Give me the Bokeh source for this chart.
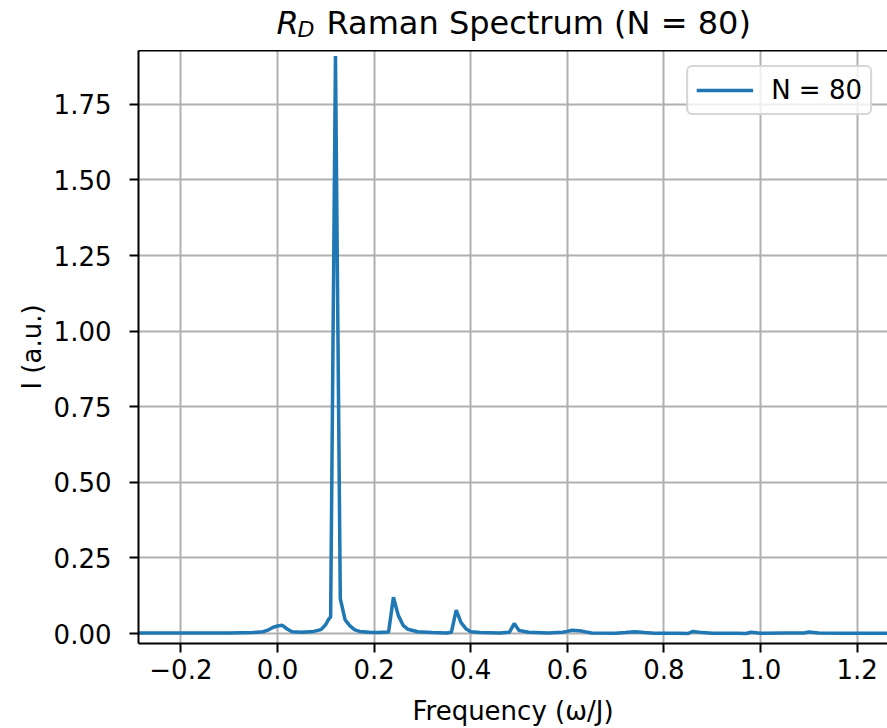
from bokeh.plotting import figure
from bokeh.layouts import column
from bokeh.models import (Range1d, FixedTicker, LinearAxis, Label,
                          NumeralTickFormatter, CustomJSTickFormatter)
from bokeh.embed import file_html
from bokeh.resources import INLINE

# ---- data ----
freq = [-0.29, -0.10, -0.05, -0.03, -0.02, -0.01, 0.00, 0.01, 0.02, 0.03,
        0.05, 0.075, 0.09, 0.10, 0.105, 0.11, 0.12, 0.13, 0.14, 0.15,
        0.16, 0.17, 0.19, 0.21, 0.23, 0.24, 0.25, 0.26, 0.27, 0.29,
        0.32, 0.35, 0.36, 0.37, 0.38, 0.39, 0.40, 0.42, 0.46, 0.48,
        0.49, 0.50, 0.52, 0.56, 0.59, 0.60, 0.61, 0.63, 0.65, 0.70,
        0.72, 0.74, 0.76, 0.78, 0.83, 0.85, 0.86, 0.88, 0.90, 0.95,
        0.97, 0.98, 1.00, 1.05, 1.09, 1.10, 1.12, 1.18, 1.27]
intensity = [0.002, 0.002, 0.003, 0.006, 0.011, 0.020, 0.025, 0.027, 0.015, 0.006,
             0.004, 0.007, 0.013, 0.030, 0.045, 0.055, 1.910, 0.115, 0.045, 0.025,
             0.012, 0.007, 0.004, 0.003, 0.005, 0.120, 0.060, 0.027, 0.014, 0.006,
             0.003, 0.002, 0.004, 0.077, 0.036, 0.016, 0.006, 0.003, 0.002, 0.004,
             0.033, 0.010, 0.004, 0.002, 0.004, 0.007, 0.011, 0.008, 0.002, 0.001,
             0.003, 0.006, 0.003, 0.001, 0.001, 0.000, 0.007, 0.003, 0.001, 0.001,
             0.000, 0.004, 0.001, 0.002, 0.002, 0.005, 0.002, 0.001, 0.001]
series_label = "N = 80"

x_ticks = [-0.2, 0.0, 0.2, 0.4, 0.6, 0.8, 1.0, 1.2]
y_ticks = [0.0, 0.25, 0.5, 0.75, 1.0, 1.25, 1.5, 1.75]

title_symbol = "R"
title_subscript = "D"
title_rest = "Raman Spectrum (N = 80)"
x_label = "Frequency (ω/J)"
y_label = "I (a.u.)"

# ---- layout ----
FONT = "DejaVu Sans"
W = 887
BL = 138                    # left border (frame starts here)
TH = 50                     # height of the title strip
H = 678                     # height of the plot figure
X0, X1 = -0.2878, 1.2629
Y0, Y1 = -0.033, 1.928

# ---- title strip: its frame spans page pixels BL..W horizontally, 0..TH vertically ----
t = figure(width=W, height=TH, x_range=Range1d(BL, W), y_range=Range1d(0, TH),
           output_backend="svg", toolbar_location=None, title=None,
           x_axis_location=None, y_axis_location=None,
           min_border=0, min_border_left=BL, min_border_right=0,
           min_border_top=0, min_border_bottom=0)
t.grid.visible = False
t.outline_line_color = None
t.background_fill_color = "white"
t.border_fill_color = "white"

def ty(pos_from_top):
    return TH - pos_from_top

t.add_layout(Label(x=276, y=ty(22), text=title_symbol, text_font=FONT,
                   text_font_style="italic", text_font_size="32px",
                   text_baseline="alphabetic", text_align="left", text_color="black"))
t.add_layout(Label(x=297, y=ty(29), text=title_subscript, text_font=FONT,
                   text_font_style="italic", text_font_size="22px",
                   text_baseline="alphabetic", text_align="left", text_color="black"))
t.add_layout(Label(x=326, y=ty(22), text=title_rest, text_font=FONT,
                   text_font_size="32px",
                   text_baseline="alphabetic", text_align="left", text_color="black"))

# ---- main plot ----
p = figure(width=W, height=H, x_range=Range1d(X0, X1), y_range=Range1d(Y0, Y1),
           output_backend="svg", toolbar_location=None, title=None,
           min_border_left=BL, min_border_right=0,
           min_border_top=0, min_border_bottom=83)
p.outline_line_color = None
p.background_fill_color = "white"
p.border_fill_color = "white"

p.line(freq, intensity, line_color="#1f77b4", line_width=3.5,
       legend_label=series_label)

for ax in (p.xaxis[0], p.yaxis[0]):
    ax.axis_line_width = 2
    ax.axis_line_color = "black"
    ax.major_tick_line_width = 2
    ax.major_tick_line_color = "black"
    ax.major_tick_out = 9
    ax.major_tick_in = 0
    ax.minor_tick_line_color = None
    ax.major_label_text_font = FONT
    ax.major_label_text_font_size = "26px"
    ax.major_label_text_color = "black"
    ax.axis_label_text_font = FONT
    ax.axis_label_text_font_size = "26px"
    ax.axis_label_text_font_style = "normal"
    ax.axis_label_text_color = "black"

p.xaxis[0].ticker = FixedTicker(ticks=x_ticks)
p.xaxis[0].formatter = CustomJSTickFormatter(
    code="return (tick < -1e-9 ? '\u2212' : '') + Math.abs(tick).toFixed(1);")
p.xaxis[0].axis_label = x_label
p.xaxis[0].major_label_standoff = 6
p.xaxis[0].axis_label_standoff = 14

p.yaxis[0].ticker = FixedTicker(ticks=y_ticks)
p.yaxis[0].formatter = NumeralTickFormatter(format="0.00")
p.yaxis[0].axis_label = y_label
p.yaxis[0].major_label_standoff = 18
p.yaxis[0].axis_label_standoff = 4

# top spine
top = LinearAxis(ticker=FixedTicker(ticks=[]), axis_line_width=2,
                 axis_line_color="black", major_tick_out=0, major_tick_in=0,
                 minor_tick_out=0, minor_tick_in=0,
                 major_label_text_font_size="0px", major_label_standoff=0)
p.add_layout(top, "above")

for g in (p.xgrid[0], p.ygrid[0]):
    g.grid_line_color = "#b0b0b0"
    g.grid_line_width = 2

lg = p.legend[0]
lg.location = "top_right"
lg.margin = 15
lg.padding = 8
lg.spacing = 0
lg.glyph_width = 57
lg.glyph_height = 30
lg.label_standoff = 18
lg.label_text_font = FONT
lg.label_text_font_size = "26px"
lg.label_text_color = "black"
lg.border_line_color = "#cccccc"
lg.border_line_width = 2
lg.border_line_alpha = 0.8
lg.background_fill_alpha = 0.8
lg.border_radius = 6

page = column(t, p, spacing=0)
open("out.html", "w").write(file_html(page, INLINE))
